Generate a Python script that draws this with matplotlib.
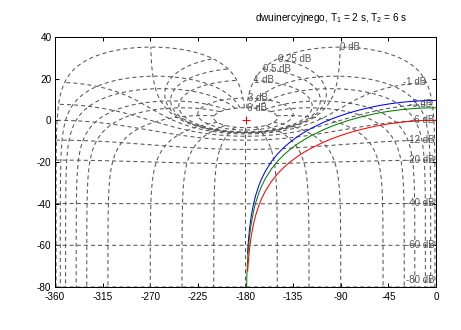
import numpy as np
import matplotlib
matplotlib.use("Agg")
import matplotlib.pyplot as plt

plt.rcParams['font.family'] = ['Liberation Sans', 'DejaVu Sans']
plt.rcParams['mathtext.fontset'] = 'custom'
plt.rcParams['mathtext.rm'] = 'Liberation Sans'
plt.rcParams['axes.unicode_minus'] = False
plt.rcParams['lines.scale_dashes'] = False

# Charakterystyki Nicholsa obiektu dwuinercyjnego (faza w stopniach, wzmocnienie w dB)
faza = [-0.46, -4.58, -9.13, -13.63, -18.07, -22.41, -30.75, -42.27, -50.91, -58.69,
        -71.99, -82.88, -91.91, -99.53, -106.04, -116.57, -124.67, -131.07, -138.44,
        -143.97, -149.47, -155.23, -161.20, -164.88, -167.36, -170.49, -172.38,
        -174.55, -176.19, -177.45, -177.94, -178.09, -178.73, -178.95, -179.24]

wzm_niebieski = [9.54, 9.52, 9.47, 9.39, 9.27, 9.12, 8.75, 8.03, 7.34, 6.59, 5.02, 3.45,
                 1.93, 0.48, -0.91, -3.47, -5.78, -7.88, -10.68, -13.13, -15.99, -19.60,
                 -24.38, -28.15, -31.26, -36.20, -40.05, -45.87, -52.06, -59.09, -62.73,
                 -64.09]

wzm_zielony = [6.02, 6.00, 5.95, 5.87, 5.75, 5.60, 5.23, 4.51, 3.82, 3.07, 1.50, -0.07,
               -1.59, -3.04, -4.43, -6.99, -9.30, -11.40, -14.20, -16.65, -19.51, -23.12,
               -27.90, -31.67, -34.78, -39.72, -43.57, -49.39, -55.58, -62.61, -66.25,
               -67.61, -74.65, -79.65, -83.52]

wzm_czerwony = [0.00, -0.02, -0.07, -0.15, -0.27, -0.42, -0.79, -1.51, -2.20, -2.95,
                -4.52, -6.09, -7.61, -9.06, -10.45, -13.01, -15.32, -17.42, -20.22,
                -22.67, -25.53, -29.14, -33.92, -37.69, -40.80, -45.74, -49.59, -55.41,
                -61.60, -68.63, -72.27]

# punkt krytyczny
krytyczny_faza = [-180]
krytyczny_wzm = [0]

# siatka Nicholsa (jak ngrid): wzmocnienia i fazy ukladu zamknietego
siatka_wzm = [6, 3, 1, 0.5, 0.25, 0, -1, -3, -6, -12, -20, -40, -60, -80, -100, -120]
siatka_faza = [1, 5, 10, 20, 30, 50, 90, 120, 150, 180]

KOLOR_SIATKI = "#555555"
KRESKI = (0, (2.9, 2.2))


def _nichols(T):
    """Przelicza transmitancje zamknieta T na otwarta G = T/(1-T) -> (faza, dB)."""
    G = T / (1 - T)
    wz = 20 * np.log10(np.abs(G))
    fz = np.degrees(np.angle(G))
    fz = np.where(fz > 0, fz - 360, fz)
    return fz, wz


fig = plt.figure(figsize=(4.61, 3.30), dpi=100)
ax = fig.add_axes([55 / 461, 1 - 287 / 330, 381 / 461, 250 / 330])

# linie stalego wzmocnienia (M)
phi = np.radians(np.linspace(1, 359, 8000))
for g in siatka_wzm:
    fz, wz = _nichols(10 ** (g / 20) * np.exp(-1j * phi))
    ax.plot(fz, wz, color=KOLOR_SIATKI, lw=0.75, linestyle=KRESKI)

# linie stalej fazy (N)
mag = 10 ** (np.linspace(6, -130, 40000) / 20)
for p in siatka_faza + [360 - p for p in siatka_faza if p != 180]:
    fz, wz = _nichols(mag * np.exp(-1j * np.radians(p)))
    ax.plot(fz, wz, color=KOLOR_SIATKI, lw=0.75, linestyle=KRESKI)

# opisy linii
for g in siatka_wzm:
    fz, wz = _nichols(np.array([10 ** (g / 20) * np.exp(-1j * np.radians(1))]))
    fz, wz = fz[0], wz[0]
    if wz < -81:
        continue
    ha = 'left' if g >= 0 else 'right'
    ax.text(fz, max(wz, -76.5), f"{g:g} dB", ha=ha, va='center',
            fontsize=7, color=KOLOR_SIATKI)

ax.plot(faza[:len(wzm_niebieski)], wzm_niebieski, color=(0, 0, 1), lw=0.75)
ax.plot(faza[:len(wzm_zielony)], wzm_zielony, color=(0, 0.5, 0), lw=0.75)
ax.plot(faza[:len(wzm_czerwony)], wzm_czerwony, color=(1, 0, 0), lw=0.75)
ax.plot(krytyczny_faza, krytyczny_wzm, '+', color='red', ms=6, mew=0.75)

ax.set_xlim(-360, 0)
ax.set_ylim(-80, 40)
ax.set_xticks(np.arange(-360, 1, 45))
ax.set_yticks(np.arange(-80, 41, 20))
ax.tick_params(direction='in', length=3, width=0.72, top=True, right=True,
               labelsize=7.2, colors='black')
ax.tick_params(axis='x', pad=3.5)
ax.tick_params(axis='y', pad=2.5)
for s in ax.spines.values():
    s.set_linewidth(0.72)

fig.text(331 / 461, 1 - 21 / 330, r"dwuinercyjnego, T$_\mathrm{1}$ = 2 s, T$_\mathrm{2}$ = 6 s",
         ha='center', va='baseline', fontsize=7.2)

fig.savefig("out.png", dpi=100)
